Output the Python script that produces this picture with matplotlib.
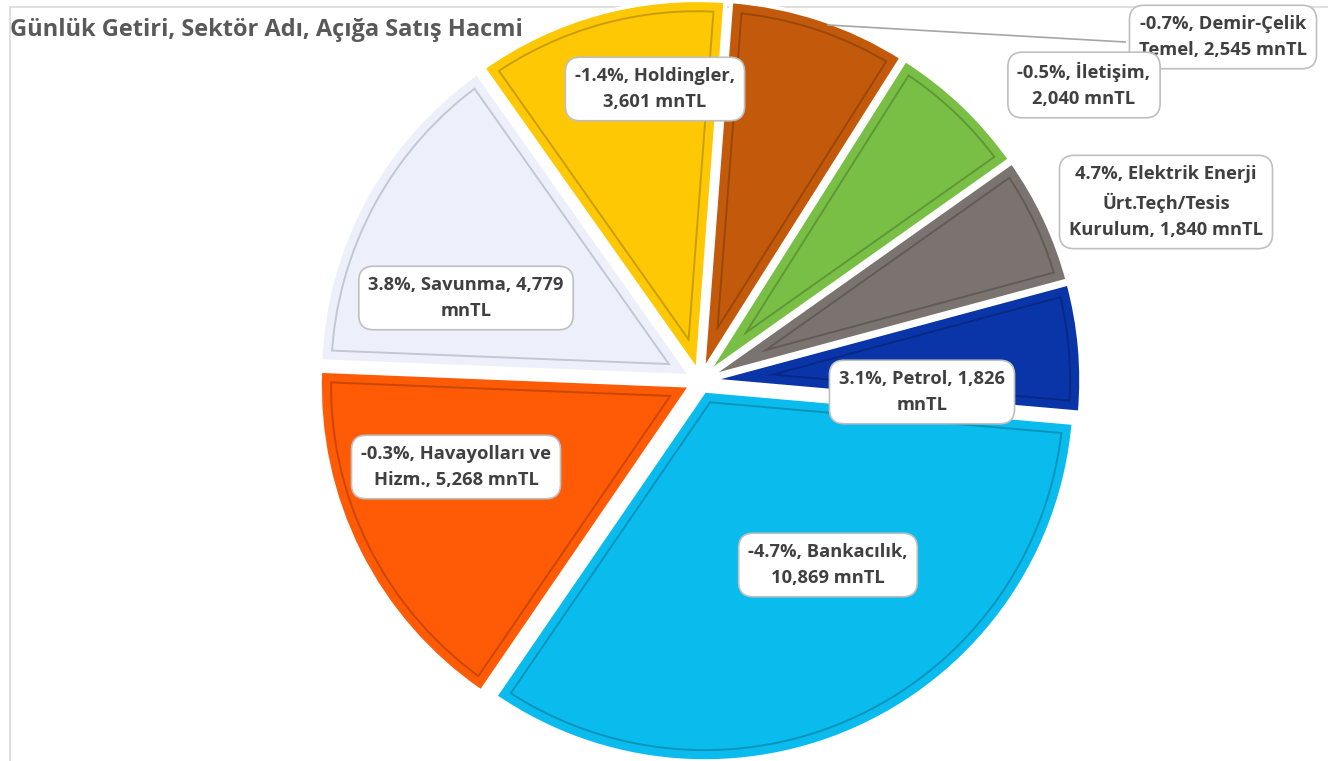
import matplotlib.pyplot as plt
from matplotlib.patches import Rectangle, PathPatch
from matplotlib.colors import to_rgb

plt.rcParams['font.family'] = ['Open Sans', 'DejaVu Sans']

# sektörler (saat yönünde, Bankacılık'tan başlayarak)
sectors = ['Bankacılık', 'Havayolları ve Hizm.', 'Savunma', 'Holdingler',
           'Demir-Çelik Temel', 'İletişim', 'Elektrik Enerji Ürt.Teçh/Tesis Kurulum', 'Petrol']
volumes = [10869, 5268, 4779, 3601, 2545, 2040, 1840, 1826]   # mnTL
returns = [-4.7, -0.3, 3.8, -1.4, -0.7, -0.5, 4.7, 3.1]      # %
colors = ['#0ABCEE', '#FF5A05', '#EDF0FA', '#FFC805',
          '#C35A0B', '#79BF45', '#7B7370', '#0A35A8']

labels = [
    '-4.7%, Bankacılık,\n10,869 mnTL',
    '-0.3%, Havayolları ve\nHizm., 5,268 mnTL',
    '3.8%, Savunma, 4,779\nmnTL',
    '-1.4%, Holdingler,\n3,601 mnTL',
    '-0.7%, Demir-Çelik\nTemel, 2,545 mnTL',
    '-0.5%, İletişim,\n2,040 mnTL',
    '4.7%, Elektrik Enerji\nÜrt.Teçh/Tesis\nKurulum, 1,840 mnTL',
    '3.1%, Petrol, 1,826\nmnTL',
]
# etiket merkezleri (piksel, üstten)
label_pos = [(828, 565), (456, 467), (466, 298), (655, 89),
             (1223, 37), (1084, 85), (1166, 202), (922, 392)]

W, H = 1328, 761
fig = plt.figure(figsize=(W / 100, H / 100), dpi=100)
ax = fig.add_axes([0, 0, 1, 1])
ax.axis('off')

# çerçeve
ax.add_patch(Rectangle((10, -5), W, H - 2, fill=False, edgecolor='#D9D9D9', lw=1.2))

cx, cy = 700, H - 381
R = 370
gap = 11  # patlatma (veri birimi = piksel)
explode = [gap] * len(volumes)

wedges, _ = ax.pie(volumes, colors=colors, startangle=-5, counterclock=False,
                   center=(cx, cy), radius=R, explode=explode,
                   wedgeprops=dict(edgecolor='white', linewidth=2.5))


def darker(c, f=0.72):
    r, g, b = to_rgb(c)
    return (r * f, g * f, b * f)


inner_edges = [darker(c) for c in colors]
inner_edges[2] = '#B5BAC8'

# iç kenar çizgisi (kabartma etkisi): dilime kırpılmış iki kalın çizgi
for w, fc, ec in zip(wedges, colors, inner_edges):
    band = PathPatch(w.get_path(), transform=ax.transData, facecolor='none',
                     edgecolor=ec, lw=17, alpha=0.75)
    cover = PathPatch(w.get_path(), transform=ax.transData, facecolor='none',
                      edgecolor=fc, lw=14.2)
    for p in (band, cover):
        ax.add_patch(p)
        p.set_clip_path(w)
    # dış beyaz kenarı yeniden çiz
    rim = PathPatch(w.get_path(), transform=ax.transData, facecolor='none',
                    edgecolor='white', lw=2.5)
    ax.add_patch(rim)

ax.set_xlim(0, W)
ax.set_ylim(0, H)
ax.set_aspect('auto')

# Demir-Çelik kılavuz çizgisi
ax.plot([828, 1125], [H - 25, H - 42], color='#A6A6A6', lw=1.2, zorder=3)

for lab, (x, y) in zip(labels, label_pos):
    ax.text(x, H - y, lab, ha='center', va='center', fontsize=13.2,
            fontweight='bold', color='#404040', linespacing=1.6, zorder=5,
            bbox=dict(boxstyle='round,pad=0.52,rounding_size=0.8',
                      facecolor='white', edgecolor='#BFBFBF', lw=1.2))

ax.text(10, H - 30, 'Günlük Getiri, Sektör Adı, Açığa Satış Hacmi',
        ha='left', va='center', fontsize=17, fontweight='bold', color='#595959')

fig.savefig('out.png', dpi=100)
